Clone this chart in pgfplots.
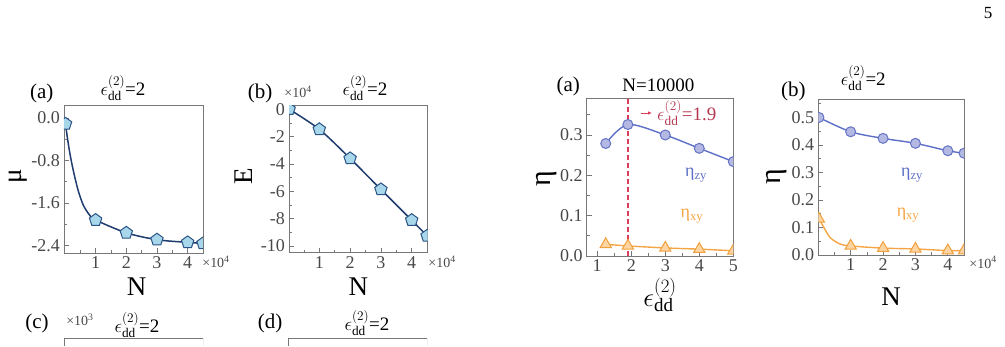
\documentclass[border=0pt]{standalone}
\usepackage{fix-cm}
\usepackage{fontspec}
\setmainfont{Liberation Serif}
\usepackage{pgfplots}
\pgfplotsset{compat=1.18}
\usetikzlibrary{arrows.meta}

\definecolor{framegray}{HTML}{777777}
\definecolor{tickgray}{HTML}{484848}
\definecolor{navyline}{HTML}{1F3C6E}
\definecolor{pentfill}{HTML}{A8D6EA}
\definecolor{pentdraw}{HTML}{2A5485}
\definecolor{zyline}{HTML}{5D6FC7}
\definecolor{zyfill}{HTML}{B4B9E4}
\definecolor{zydraw}{HTML}{6573C4}
\definecolor{xyline}{HTML}{F6A544}
\definecolor{xyfill}{HTML}{FCD5A2}
\definecolor{xydraw}{HTML}{F2A03C}
\definecolor{redline}{HTML}{DC3C5A}
\definecolor{redtext}{HTML}{B5374F}

\newcommand{\fs}[1]{\fontsize{#1}{#1}\selectfont}
\newcommand{\edd}{$\epsilon^{(2)}_{\mathrm{dd}}$}

\pgfplotsset{
  frame/.style={
    scale only axis, anchor=south west,
    tick pos=left, tick align=inside,
    axis line style={draw=framegray, line width=0.9pt},
    tick style={draw=framegray, line width=0.7pt},
    major tick length=5pt, minor tick length=3pt,
    tick label style={font=\fs{18}, text=tickgray},
    yticklabel style={inner sep=4pt},
    scaled ticks=false, clip marker paths=true,
  },
  pent/.style={only marks, mark=pentagon*, mark size=6.5pt,
    mark options={fill=pentfill, draw=pentdraw, line width=1pt}},
  zymark/.style={only marks, mark=*, mark size=5pt,
    mark options={fill=zyfill, draw=zydraw, line width=1pt}},
  xymark/.style={only marks, mark=triangle*, mark size=6.5pt,
    mark options={fill=xyfill, draw=xydraw, line width=1pt}},
}

\begin{document}
\begin{tikzpicture}
\path (0pt,0pt) rectangle (1005pt,-346pt);

% (a) chemical potential versus N
\begin{axis}[frame, at={(64pt,-253pt)}, width=139pt, height=148pt,
  xmin=-0.03, xmax=4.5, ymin=-2.54, ymax=0.245,
  xtick={1,2,3,4}, xticklabels={1,2,3,4},
  minor xtick={0.5,1.5,2.5,3.5},
  ytick={-2.4,-1.6,-0.8,0}, yticklabels={-2.4,-1.6,-0.8,0.0},
  minor ytick={-2,-1.2,-0.4}]
\addplot[navyline, line width=1.5pt, smooth] coordinates {
  (0.02,-0.11) (0.075,-0.35) (0.16,-0.66) (0.27,-0.98) (0.43,-1.36)
  (0.6,-1.64) (0.81,-1.83) (1,-1.92) (2,-2.16) (3,-2.29) (4,-2.34) (4.5,-2.36)};
\addplot[pent] coordinates {
  (0.02,-0.11) (1,-1.92) (2,-2.16) (3,-2.29) (4,-2.34) (4.5,-2.36)};
\end{axis}

% (b) energy versus N
\begin{axis}[frame, at={(289pt,-252.7pt)}, width=138.7pt, height=147.7pt,
  xmin=0.016, xmax=4.52, ymin=-10.5, ymax=0.31,
  xtick={1,2,3,4}, xticklabels={1,2,3,4},
  minor xtick={0.5,1.5,2.5,3.5},
  ytick={-10,-8,-6,-4,-2,0}, yticklabels={-10,-8,-6,-4,-2,0},
  minor ytick={-9,-7,-5,-3,-1}]
\addplot[navyline, line width=1.5pt, smooth] coordinates {
  (0.02,0) (1,-1.47) (2,-3.6) (3,-5.87) (4,-8.12) (4.5,-9.27)};
\addplot[pent] coordinates {
  (0.02,0) (1,-1.47) (2,-3.6) (3,-5.87) (4,-8.12) (4.5,-9.27)};
\end{axis}

% (c) and (d): only the top of their frames falls on this page
\begin{axis}[scale only axis, anchor=south west, at={(64pt,-346pt)},
  width=139pt, height=8pt, xmin=0, xmax=1, ymin=0, ymax=1, hide axis]
\draw[framegray, line width=0.9pt] (rel axis cs:0,0) -- (rel axis cs:0,1)
  -- (rel axis cs:1,1) -- (rel axis cs:1,0);
\end{axis}
\begin{axis}[scale only axis, anchor=south west, at={(288pt,-346pt)},
  width=139pt, height=8pt, xmin=0, xmax=1, ymin=0, ymax=1, hide axis]
\draw[framegray, line width=0.9pt] (rel axis cs:0,0) -- (rel axis cs:0,1)
  -- (rel axis cs:1,1) -- (rel axis cs:1,0);
\end{axis}

% right (a): eta versus epsilon at N=10000
\begin{axis}[frame, at={(586.7pt,-256pt)}, width=146.6pt, height=157.7pt,
  xmin=0.69, xmax=5, ymin=0, ymax=0.391,
  xtick={1,2,3,4,5}, xticklabels={1,2,3,4,5},
  minor xtick={1.5,2.5,3.5,4.5},
  ytick={0,0.1,0.2,0.3}, yticklabels={0.0,0.1,0.2,0.3},
  minor ytick={0.05,0.15,0.25,0.35}]
\addplot[draw=redline, line width=1.3pt, dash pattern=on 5pt off 3pt] coordinates {
  (1.9,0) (1.9,0.391)};
\addplot[zyline, line width=1.4pt, smooth] coordinates {
  (1.25,0.279) (1.9,0.326) (3,0.300) (4,0.267) (5,0.234)};
\addplot[zymark] coordinates {
  (1.25,0.279) (1.9,0.326) (3,0.300) (4,0.267) (5,0.234)};
\addplot[xyline, line width=1.4pt, smooth] coordinates {
  (1.25,0.029) (1.9,0.025) (3,0.020) (4,0.017) (5,0.013)};
\addplot[xymark] coordinates {
  (1.25,0.029) (1.9,0.025) (3,0.020) (4,0.017) (5,0.013)};
\end{axis}

% right (b): eta versus N
\begin{axis}[frame, at={(818.3pt,-255pt)}, width=145.7pt, height=155.7pt,
  xmin=0, xmax=4.5, ymin=0, ymax=0.566,
  xtick={1,2,3,4}, xticklabels={1,2,3,4},
  minor xtick={0.5,1.5,2.5,3.5},
  ytick={0,0.1,0.2,0.3,0.4,0.5}, yticklabels={0.0,0.1,0.2,0.3,0.4,0.5},
  minor ytick={0.05,0.15,0.25,0.35,0.45,0.55}]
\addplot[zyline, line width=1.4pt, smooth] coordinates {
  (0.02,0.500) (1,0.448) (2,0.424) (3,0.406) (4,0.379) (4.5,0.370)};
\addplot[zymark] coordinates {
  (0.02,0.500) (1,0.448) (2,0.424) (3,0.406) (4,0.379) (4.5,0.370)};
\addplot[xyline, line width=1.4pt, smooth] coordinates {
  (0.02,0.131) (0.15,0.105) (0.36,0.064) (0.67,0.040) (1,0.033)
  (2,0.025) (3,0.022) (4,0.016) (4.5,0.016)};
\addplot[xymark] coordinates {
  (0.02,0.131) (1,0.033) (2,0.025) (3,0.022) (4,0.016) (4.5,0.016)};
\end{axis}

% labels, titles and annotations
\begin{scope}[x=1pt, y=-1pt]
\node[font=\fs{17}] at (988,13) {5};
% left block
\node[font=\fs{21}] at (41.7,93.3) {(a)};
\node[font=\fs{19}] at (123,88) {\edd=2};
\node[font=\fs{21}] at (260,93) {(b)};
\node[font=\fs{14}, text=tickgray] at (298,92) {×10\textsuperscript{4}};
\node[font=\fs{19}] at (365,88) {\edd=2};
\node[font=\fs{14}, text=tickgray] at (216,262) {×10\textsuperscript{4}};
\node[font=\fs{14}, text=tickgray] at (442,262) {×10\textsuperscript{4}};
\node[font=\fs{27}] at (136.7,287) {N};
\node[font=\fs{27}] at (358.3,287) {N};
\node[font=\fs{27}, rotate=90] at (18,176.7) {μ};
\node[font=\fs{27}, rotate=90] at (243.5,176.7) {E};
\node[font=\fs{21}] at (37,323) {(c)};
\node[font=\fs{14}, text=tickgray] at (80,320) {×10\textsuperscript{3}};
\node[font=\fs{19}] at (137,325) {\edd=2};
\node[font=\fs{21}] at (270,323) {(d)};
\node[font=\fs{19}] at (367,323) {\edd=2};
% right block, panel (a)
\node[font=\fs{21}] at (568.3,86.7) {(a)};
\node[font=\fs{19}] at (658.3,85) {N=10000};
\node[font=\fs{30}, rotate=90] at (546.7,178.3) {η};
\node[font=\fs{27}] at (660,295) {\edd};
\draw[redline, line width=1pt, -{Latex[length=4pt,width=3.5pt]}] (641,113) -- (652,113);
\node[font=\fs{19}, text=redtext, anchor=west, inner sep=1pt] at (656,113) {\edd=1.9};
\node[font=\fs{18}, text=zyline] at (696,175) {η\textsubscript{zy}};
\node[font=\fs{18}, text=xyline] at (692,216) {η\textsubscript{xy}};
% right block, panel (b)
\node[font=\fs{21}] at (793.3,91.7) {(b)};
\node[font=\fs{19}] at (863.3,78) {\edd=2};
\node[font=\fs{30}, rotate=90] at (776.7,176.7) {η};
\node[font=\fs{27}] at (891,297) {N};
\node[font=\fs{14}, text=tickgray] at (983,262.3) {×10\textsuperscript{4}};
\node[font=\fs{18}, text=zyline] at (912,175) {η\textsubscript{zy}};
\node[font=\fs{18}, text=xyline] at (908,215) {η\textsubscript{xy}};
\end{scope}
\end{tikzpicture}
\end{document}
